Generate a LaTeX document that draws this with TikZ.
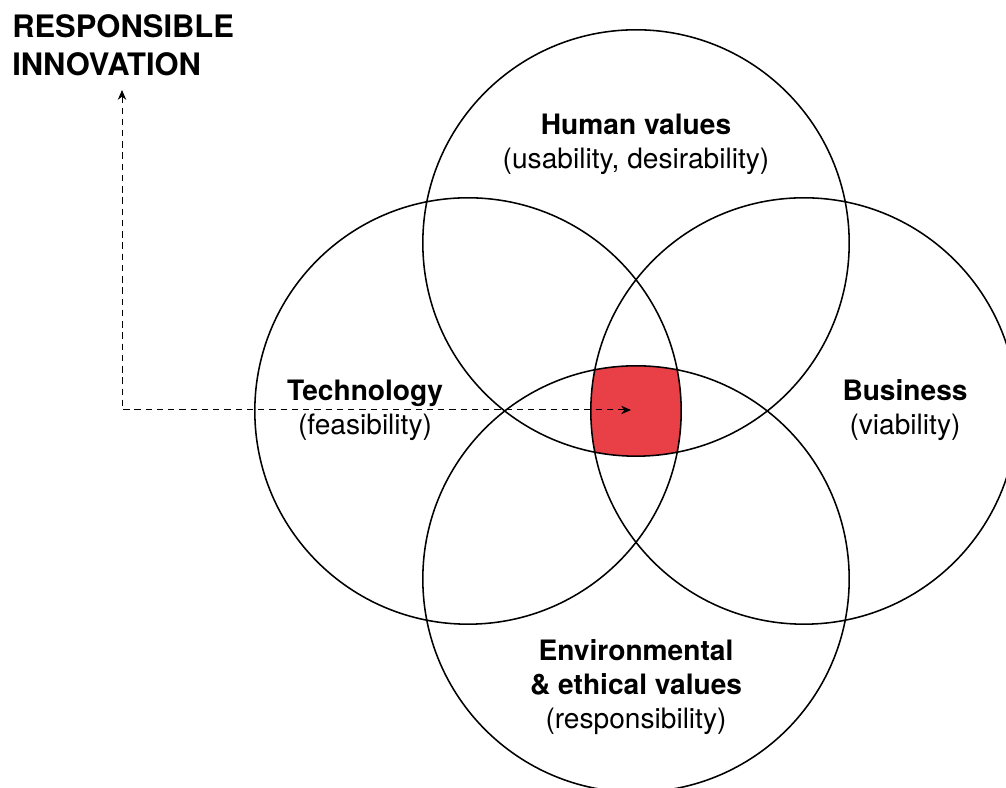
\documentclass[tikz,border=0pt]{standalone}
\usepackage{fontspec}
\setmainfont{TeX Gyre Heros}
\usetikzlibrary{arrows.meta}
\definecolor{corered}{RGB}{232,64,70}
\tikzset{
	ring/.style={line width=1.1pt, color=black},
	areatext/.style={align=center, font=\fontsize{20}{24}\selectfont},
	titletext/.style={align=left, font=\fontsize{22}{27}\selectfont\bfseries, inner sep=0pt},
	pointer/.style={line width=0.7pt, dash pattern=on 4.5pt off 3.5pt, {Stealth[length=7pt, width=6pt]}-{Stealth[length=7pt, width=6pt]}}
}
\begin{document}
\begin{tikzpicture}
	%%%%% START %%%%%
	\useasboundingbox (0, 0) rectangle (25.15, 19.7);

	% overlap of all four circles
	\begin{scope}
		\clip (15.9, 13.625) circle (5.33);
		\clip (15.9, 5.225) circle (5.33);
		\clip (11.7, 9.425) circle (5.33);
		\fill[corered] (20.1, 9.425) circle (5.33);
	\end{scope}

	\draw[ring] (15.9, 13.625) circle (5.33);
	\draw[ring] (11.7, 9.425) circle (5.33);
	\draw[ring] (20.1, 9.425) circle (5.33);
	\draw[ring] (15.9, 5.225) circle (5.33);

	\node[areatext] (human) at (15.9, 16.1) {\textbf{Human values}\\(usability, desirability)};
	\node[areatext] (tech) at (9.125, 9.45) {\textbf{Technology}\\(feasibility)};
	\node[areatext] (business) at (22.625, 9.45) {\textbf{Business}\\(viability)};
	\node[areatext] (env) at (15.9, 2.525) {\textbf{Environmental}\\\textbf{\& ethical values}\\(responsibility)};

	\node[titletext, anchor=west] (resp) at (0.3, 18.575) {RESPONSIBLE\\INNOVATION};

	\coordinate (resptip) at (3.05, 17.45);
	\coordinate (core) at (15.775, 9.45);
	\draw[pointer] (resptip) |- (core);

	%%%%% END %%%%%
\end{tikzpicture}
\end{document}
